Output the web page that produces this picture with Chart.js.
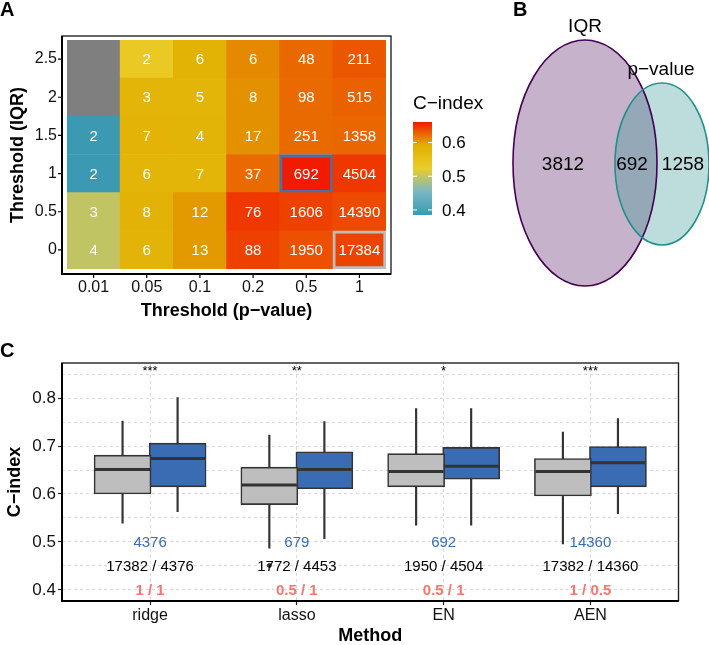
<!DOCTYPE html>
<html><head><meta charset="utf-8">
<script src="https://cdn.jsdelivr.net/npm/chart.js@4.4.1/dist/chart.umd.min.js"></script>
<style>
html,body{margin:0;padding:0;background:#fff;width:709px;height:645px;overflow:hidden;}
canvas{position:absolute;display:block;}
</style></head><body>
<canvas id="heat" width="500" height="330" style="left:0;top:0"></canvas>
<canvas id="venn" width="209" height="330" style="left:500px;top:0"></canvas>
<canvas id="box" width="709" height="315" style="left:0;top:330px"></canvas>
<script>
// ---------------- DATA ----------------
// Panel A: heatmap
const pThresholds = ['0.01', '0.05', '0.1', '0.2', '0.5', '1'];
const iqrThresholds = ['0', '0.5', '1', '1.5', '2', '2.5'];
// number of genes per (IQR row, p-value column)
const countsIQR0   = [4, 6, 13, 88, 1950, 17384];
const countsIQR05  = [3, 8, 12, 76, 1606, 14390];
const countsIQR1   = [2, 6, 7, 37, 692, 4504];
const countsIQR15  = [2, 7, 4, 17, 251, 1358];
const countsIQR2   = [null, 3, 5, 8, 98, 515];
const countsIQR25  = [null, 2, 6, 6, 48, 211];
// C-index per cell (estimated from colour)
const cindexIQR0   = [0.498, 0.579, 0.602, 0.643, 0.636, 0.642];
const cindexIQR05  = [0.498, 0.582, 0.602, 0.647, 0.643, 0.639];
const cindexIQR1   = [0.385, 0.578, 0.578, 0.624, 0.661, 0.647];
const cindexIQR15  = [0.385, 0.580, 0.579, 0.606, 0.624, 0.626];
const cindexIQR2   = [null, 0.578, 0.578, 0.606, 0.624, 0.628];
const cindexIQR25  = [null, 0.531, 0.584, 0.609, 0.625, 0.633];
const legendTicks = [0.4, 0.5, 0.6];
const highlightCells = [
  { p: '0.5', iqr: '1', color: '#4a6fa5' },
  { p: '1', iqr: '0', color: '#bdbdbd' }
];

// Panel B: Venn
const vennSets = ['IQR', 'p\u2212value'];
const vennCounts = [3812, 692, 1258]; // IQR only, both, p-value only

// Panel C: boxplots
const methods = ['ridge', 'lasso', 'EN', 'AEN'];
const allLow  = [0.539, 0.487, 0.535, 0.496];
const allQ1   = [0.600, 0.578, 0.615, 0.596];
const allMed  = [0.651, 0.619, 0.647, 0.647];
const allQ3   = [0.681, 0.656, 0.684, 0.674];
const allHigh = [0.752, 0.723, 0.778, 0.729];
const selLow  = [0.563, 0.507, 0.535, 0.559];
const selQ1   = [0.615, 0.611, 0.631, 0.615];
const selMed  = [0.674, 0.651, 0.658, 0.665];
const selQ3   = [0.706, 0.688, 0.697, 0.699];
const selHigh = [0.801, 0.751, 0.778, 0.757];
const outlierMethod = ['lasso'];
const outlierValue = [0.451];
const significance = ['***', '**', '*', '***'];
const selectedGenes = ['4376', '679', '692', '14360'];
const geneCountPairs = ['17382 / 4376', '1772 / 4453', '1950 / 4504', '17382 / 14360'];
const thresholdPairs = ['1 / 1', '0.5 / 1', '0.5 / 1', '1 / 0.5'];
const boxTicksY = [0.4, 0.45, 0.5, 0.55, 0.6, 0.65, 0.7, 0.75, 0.8, 0.85];

// ---------------- helpers ----------------
const FONT = '"Liberation Sans", Arial, Helvetica, sans-serif';
const zissou = ['#3B9AB2', '#78B7C5', '#EBCC2A', '#E1AF00', '#F21A00'];
const countRows = [countsIQR0, countsIQR05, countsIQR1, countsIQR15, countsIQR2, countsIQR25];
const cRows = [cindexIQR0, cindexIQR05, cindexIQR1, cindexIQR15, cindexIQR2, cindexIQR25];
const allC = cRows.flat().filter(v => v != null);
const cMin = Math.min(...allC), cMax = Math.max(...allC);
function hex2rgb(h){return [parseInt(h.slice(1,3),16),parseInt(h.slice(3,5),16),parseInt(h.slice(5,7),16)];}
function colorFor(v){
  if (v == null) return '#7F7F7F';
  let t = (v - cMin) / (cMax - cMin); t = Math.max(0, Math.min(1, t));
  const f = t * (zissou.length - 1); const i = Math.min(Math.floor(f), zissou.length - 2); const u = f - i;
  const a = hex2rgb(zissou[i]), b = hex2rgb(zissou[i+1]);
  return 'rgb(' + a.map((x,k)=>Math.round(x + (b[k]-x)*u)).join(',') + ')';
}
function hl(p, iqr){ return highlightCells.find(h => h.p === p && h.iqr === iqr); }
Chart.defaults.font.family = FONT;
Chart.defaults.color = '#000';

// ---------------- Panel A ----------------
const heatPlugin = {
  id: 'heatExtras',
  afterDatasetsDraw(chart){
    const ctx = chart.ctx, ca = chart.chartArea;
    ctx.save();
    // cell labels
    ctx.fillStyle = '#fff'; ctx.font = '15px ' + FONT; ctx.textAlign = 'center'; ctx.textBaseline = 'middle';
    chart.data.datasets.forEach((ds, r) => {
      chart.getDatasetMeta(r).data.forEach((el, c) => {
        const n = countRows[r][c];
        if (n != null) { const pt = el.getCenterPoint(); ctx.fillText(String(n), pt.x, pt.y + 1); }
      });
    });
    // panel border
    const L = ca.left - 5, R = ca.right + 5, T = ca.top - 4, B = ca.bottom + 5;
    ctx.strokeStyle = '#000'; ctx.lineWidth = 1.2; ctx.strokeRect(L, T, R - L, B - T);
    ctx.lineWidth = 2; ctx.beginPath(); ctx.moveTo(L, T); ctx.lineTo(L, B); ctx.lineTo(R, B); ctx.stroke();
    // tick marks
    ctx.lineWidth = 1.2; ctx.beginPath();
    const xs = chart.scales.x, ys = chart.scales.y;
    xs.ticks.forEach((t, i) => { const x = xs.getPixelForTick(i); ctx.moveTo(x, B); ctx.lineTo(x, B + 4); });
    ys.ticks.forEach((t) => { const y = ys.getPixelForValue(t.value); ctx.moveTo(L, y); ctx.lineTo(L - 4, y); });
    ctx.stroke();
    // axis titles
    ctx.fillStyle = '#000'; ctx.font = 'bold 18px ' + FONT; ctx.textAlign = 'center'; ctx.textBaseline = 'middle';
    ctx.fillText('Threshold (p\u2212value)', (L + R) / 2, 311);
    ctx.save(); ctx.translate(18, (T + B) / 2); ctx.rotate(-Math.PI / 2);
    ctx.fillText('Threshold (IQR)', 0, 0); ctx.restore();
    // panel letter
    ctx.font = 'bold 20px ' + FONT; ctx.textAlign = 'left';
    ctx.fillText('A', 0, 10);
    // colour legend
    const gx = 413, gw = 19, gTop = 122, gBot = 215;
    const grad = ctx.createLinearGradient(0, gBot, 0, gTop);
    zissou.forEach((c, i) => grad.addColorStop(i / (zissou.length - 1), c));
    ctx.fillStyle = grad; ctx.fillRect(gx, gTop, gw, gBot - gTop);
    ctx.fillStyle = '#000'; ctx.font = '19px ' + FONT; ctx.textAlign = 'left'; ctx.textBaseline = 'middle';
    ctx.fillText('C\u2212index', gx, 104);
    ctx.font = '17px ' + FONT;
    legendTicks.forEach(v => {
      const y = gBot - (v - cMin) / (cMax - cMin) * (gBot - gTop);
      ctx.fillStyle = '#000'; ctx.fillText(v.toFixed(1), gx + 29, y + 1);
      ctx.strokeStyle = '#fff'; ctx.lineWidth = 1; ctx.beginPath();
      ctx.moveTo(gx, y); ctx.lineTo(gx + 4, y); ctx.moveTo(gx + gw - 4, y); ctx.lineTo(gx + gw, y); ctx.stroke();
    });
    ctx.restore();
  }
};

new Chart(document.getElementById('heat'), {
  type: 'bar',
  data: {
    labels: pThresholds,
    datasets: iqrThresholds.map((iq, r) => ({
      label: iq,
      data: pThresholds.map(() => 1),
      backgroundColor: cRows[r].map(colorFor),
      borderColor: pThresholds.map(p => (hl(p, iq) ? hl(p, iq).color : 'rgba(0,0,0,0)')),
      borderWidth: pThresholds.map(p => (hl(p, iq) ? 3 : 0)),
      borderSkipped: false,
      barPercentage: 1, categoryPercentage: 1
    }))
  },
  options: {
    responsive: false, animation: false, events: [],
    layout: { padding: { left: 0, top: 40, right: 114, bottom: 0 } },
    plugins: { legend: { display: false }, tooltip: { enabled: false } },
    scales: {
      x: {
        type: 'category', stacked: true, offset: true,
        grid: { display: false, drawTicks: false }, border: { display: false },
        ticks: { font: { size: 16 }, color: '#111', padding: 9, maxRotation: 0, autoSkip: false },
        afterFit: s => { s.height = 61; }
      },
      y: {
        type: 'linear', stacked: true, min: 0, max: iqrThresholds.length,
        grid: { display: false, drawTicks: false }, border: { display: false },
        afterBuildTicks: s => { s.ticks = iqrThresholds.map((_, i) => ({ value: i + 0.5 })); },
        ticks: { font: { size: 16 }, color: '#111', padding: 10, autoSkip: false,
                 callback: (v, i) => iqrThresholds[i] },
        afterFit: s => { s.width = 67; }
      }
    }
  },
  plugins: [heatPlugin]
});

// ---------------- Panel B ----------------
const vennLayout = {
  ellipses: [
    { cx: 85, cy: 163, rx: 72, ry: 123, stroke: '#440154', fill: 'rgba(68,1,84,0.3)', lx: 85, ly: 27 },
    { cx: 162, cy: 164, rx: 47, ry: 81, stroke: '#21908C', fill: 'rgba(33,144,140,0.3)', lx: 161, ly: 70 }
  ],
  regions: [{ x: 63, y: 165 }, { x: 132, y: 165 }, { x: 183, y: 165 }]
};
const vennPlugin = {
  id: 'venn',
  beforeDatasetsDraw(chart){
    const ctx = chart.ctx, xs = chart.scales.x, ys = chart.scales.y;
    ctx.save();
    vennLayout.ellipses.forEach(e => {
      const cx = xs.getPixelForValue(e.cx), cy = ys.getPixelForValue(e.cy);
      const rx = Math.abs(xs.getPixelForValue(e.cx + e.rx) - cx), ry = Math.abs(ys.getPixelForValue(e.cy + e.ry) - cy);
      ctx.beginPath(); ctx.ellipse(cx, cy, rx, ry, 0, 0, Math.PI * 2);
      ctx.fillStyle = e.fill; ctx.fill();
    });
    vennLayout.ellipses.forEach(e => {
      const cx = xs.getPixelForValue(e.cx), cy = ys.getPixelForValue(e.cy);
      const rx = Math.abs(xs.getPixelForValue(e.cx + e.rx) - cx), ry = Math.abs(ys.getPixelForValue(e.cy + e.ry) - cy);
      ctx.beginPath(); ctx.ellipse(cx, cy, rx, ry, 0, 0, Math.PI * 2);
      ctx.strokeStyle = e.stroke; ctx.lineWidth = 1.6; ctx.stroke();
    });
    ctx.restore();
  },
  afterDatasetsDraw(chart){
    const ctx = chart.ctx, xs = chart.scales.x, ys = chart.scales.y;
    ctx.save();
    ctx.fillStyle = '#000'; ctx.font = '19px ' + FONT; ctx.textAlign = 'center'; ctx.textBaseline = 'middle';
    chart.getDatasetMeta(0).data.forEach((el, i) => ctx.fillText(String(vennCounts[i]), el.x, el.y));
    vennLayout.ellipses.forEach((e, i) => ctx.fillText(vennSets[i], xs.getPixelForValue(e.lx), ys.getPixelForValue(e.ly)));
    ctx.font = 'bold 20px ' + FONT; ctx.textAlign = 'left';
    ctx.fillText('B', 13, 10);
    ctx.restore();
  }
};
new Chart(document.getElementById('venn'), {
  type: 'scatter',
  data: { datasets: [{ data: vennLayout.regions.map(r => ({ x: r.x, y: r.y })), pointRadius: 0 }] },
  options: {
    responsive: false, animation: false, events: [],
    layout: { padding: 0 },
    plugins: { legend: { display: false }, tooltip: { enabled: false } },
    scales: {
      x: { type: 'linear', min: 0, max: 209, display: false },
      y: { type: 'linear', min: 0, max: 330, reverse: true, display: false }
    }
  },
  plugins: [vennPlugin]
});

// ---------------- Panel C ----------------
const dodge = 0.1875;
const boxW = 57;
const GRAY = '#bebebe', BLUE = '#3a6cb4', LINE = '#333333';
function groupDatasets(lo, q1, med, q3, hi, fill, off){
  return [
    { type: 'bar', data: methods.map((m, i) => ({ x: i + 1 + off, y: [lo[i], hi[i]] })),
      backgroundColor: LINE, barThickness: 1.5, grouped: false, order: 3, borderWidth: 0 },
    { type: 'bar', data: methods.map((m, i) => ({ x: i + 1 + off, y: [q1[i], q3[i]] })),
      backgroundColor: fill, borderColor: LINE, borderWidth: 1.6, borderSkipped: false,
      barThickness: boxW, grouped: false, order: 2 },
    { type: 'scatter', data: methods.map((m, i) => ({ x: i + 1 + off, y: med[i] })),
      pointStyle: 'line', pointRadius: boxW / 2 - 1, borderColor: LINE, borderWidth: 3, order: 1 }
  ];
}
const boxPlugin = {
  id: 'boxExtras',
  afterDatasetsDraw(chart){
    const ctx = chart.ctx, ca = chart.chartArea, xs = chart.scales.x, ys = chart.scales.y;
    ctx.save();
    ctx.textAlign = 'center'; ctx.textBaseline = 'middle';
    methods.forEach((m, i) => {
      const x = xs.getPixelForValue(i + 1);
      ctx.fillStyle = '#000'; ctx.font = '13px ' + FONT;
      ctx.fillText(significance[i], x, ys.getPixelForValue(0.855));
      ctx.fillStyle = '#3a6db8'; ctx.font = '15px ' + FONT;
      ctx.fillText(selectedGenes[i], x, ys.getPixelForValue(0.5) + 1);
      ctx.fillStyle = '#000';
      ctx.fillText(geneCountPairs[i], x, ys.getPixelForValue(0.45) + 1);
      ctx.fillStyle = '#f8766d'; ctx.font = 'bold 15px ' + FONT;
      ctx.fillText(thresholdPairs[i], x, ys.getPixelForValue(0.4) + 1);
    });
    // panel border
    ctx.strokeStyle = '#222'; ctx.lineWidth = 1.4; ctx.strokeRect(ca.left, ca.top, ca.right - ca.left, ca.bottom - ca.top);
    ctx.strokeStyle = '#000'; ctx.lineWidth = 2; ctx.beginPath();
    ctx.moveTo(ca.left, ca.top); ctx.lineTo(ca.left, ca.bottom); ctx.lineTo(ca.right, ca.bottom); ctx.stroke();
    // titles
    ctx.fillStyle = '#000'; ctx.font = 'bold 18px ' + FONT;
    ctx.fillText('Method', (ca.left + ca.right) / 2, 306);
    ctx.save(); ctx.translate(15, (ca.top + ca.bottom) / 2); ctx.rotate(-Math.PI / 2);
    ctx.fillText('C\u2212index', 0, 0); ctx.restore();
    ctx.font = 'bold 20px ' + FONT; ctx.textAlign = 'left';
    ctx.fillText('C', 0, 21);
    ctx.restore();
  }
};
new Chart(document.getElementById('box'), {
  type: 'bar',
  data: {
    datasets: [
      ...groupDatasets(allLow, allQ1, allMed, allQ3, allHigh, GRAY, -dodge),
      ...groupDatasets(selLow, selQ1, selMed, selQ3, selHigh, BLUE, dodge),
      { type: 'scatter', data: outlierMethod.map((m, k) => ({ x: methods.indexOf(m) + 1 - dodge, y: outlierValue[k] })),
        pointRadius: 2, backgroundColor: LINE, borderColor: LINE, order: 0 }
    ]
  },
  options: {
    responsive: false, animation: false, events: [],
    layout: { padding: { left: 0, top: 33, right: 12, bottom: 0 } },
    plugins: { legend: { display: false }, tooltip: { enabled: false } },
    scales: {
      x: {
        type: 'linear', min: 0.4, max: methods.length + 0.6, offset: false,
        afterBuildTicks: s => { s.ticks = methods.map((_, i) => ({ value: i + 1 })); },
        grid: { offset: false, color: '#d9d9d9', tickColor: '#222', tickLength: 4, tickWidth: 1.2, tickBorderDash: [] },
        border: { display: false, dash: [3, 3] },
        ticks: { font: { size: 16 }, color: '#111', padding: 1, autoSkip: false, maxRotation: 0,
                 callback: (v, i) => methods[i] },
        afterFit: s => { s.height = 44; }
      },
      y: {
        type: 'linear', min: 0.377, max: 0.873,
        afterBuildTicks: s => { s.ticks = boxTicksY.map(v => ({ value: v })); },
        grid: { offset: false, color: '#dadada', tickLength: 4, tickWidth: 1.2, tickBorderDash: [],
                tickColor: c => (Math.round(c.tick.value * 100) % 10 === 0 ? '#222' : 'rgba(0,0,0,0)') },
        border: { display: false, dash: [3, 3] },
        ticks: { font: { size: 17 }, color: '#111', padding: 2, autoSkip: false,
                 callback: v => (Math.round(v * 100) % 10 === 0 && v < 0.85 ? v.toFixed(1) : '') },
        afterFit: s => { s.width = 62; }
      }
    }
  },
  plugins: [boxPlugin]
});
</script>
</body></html>
